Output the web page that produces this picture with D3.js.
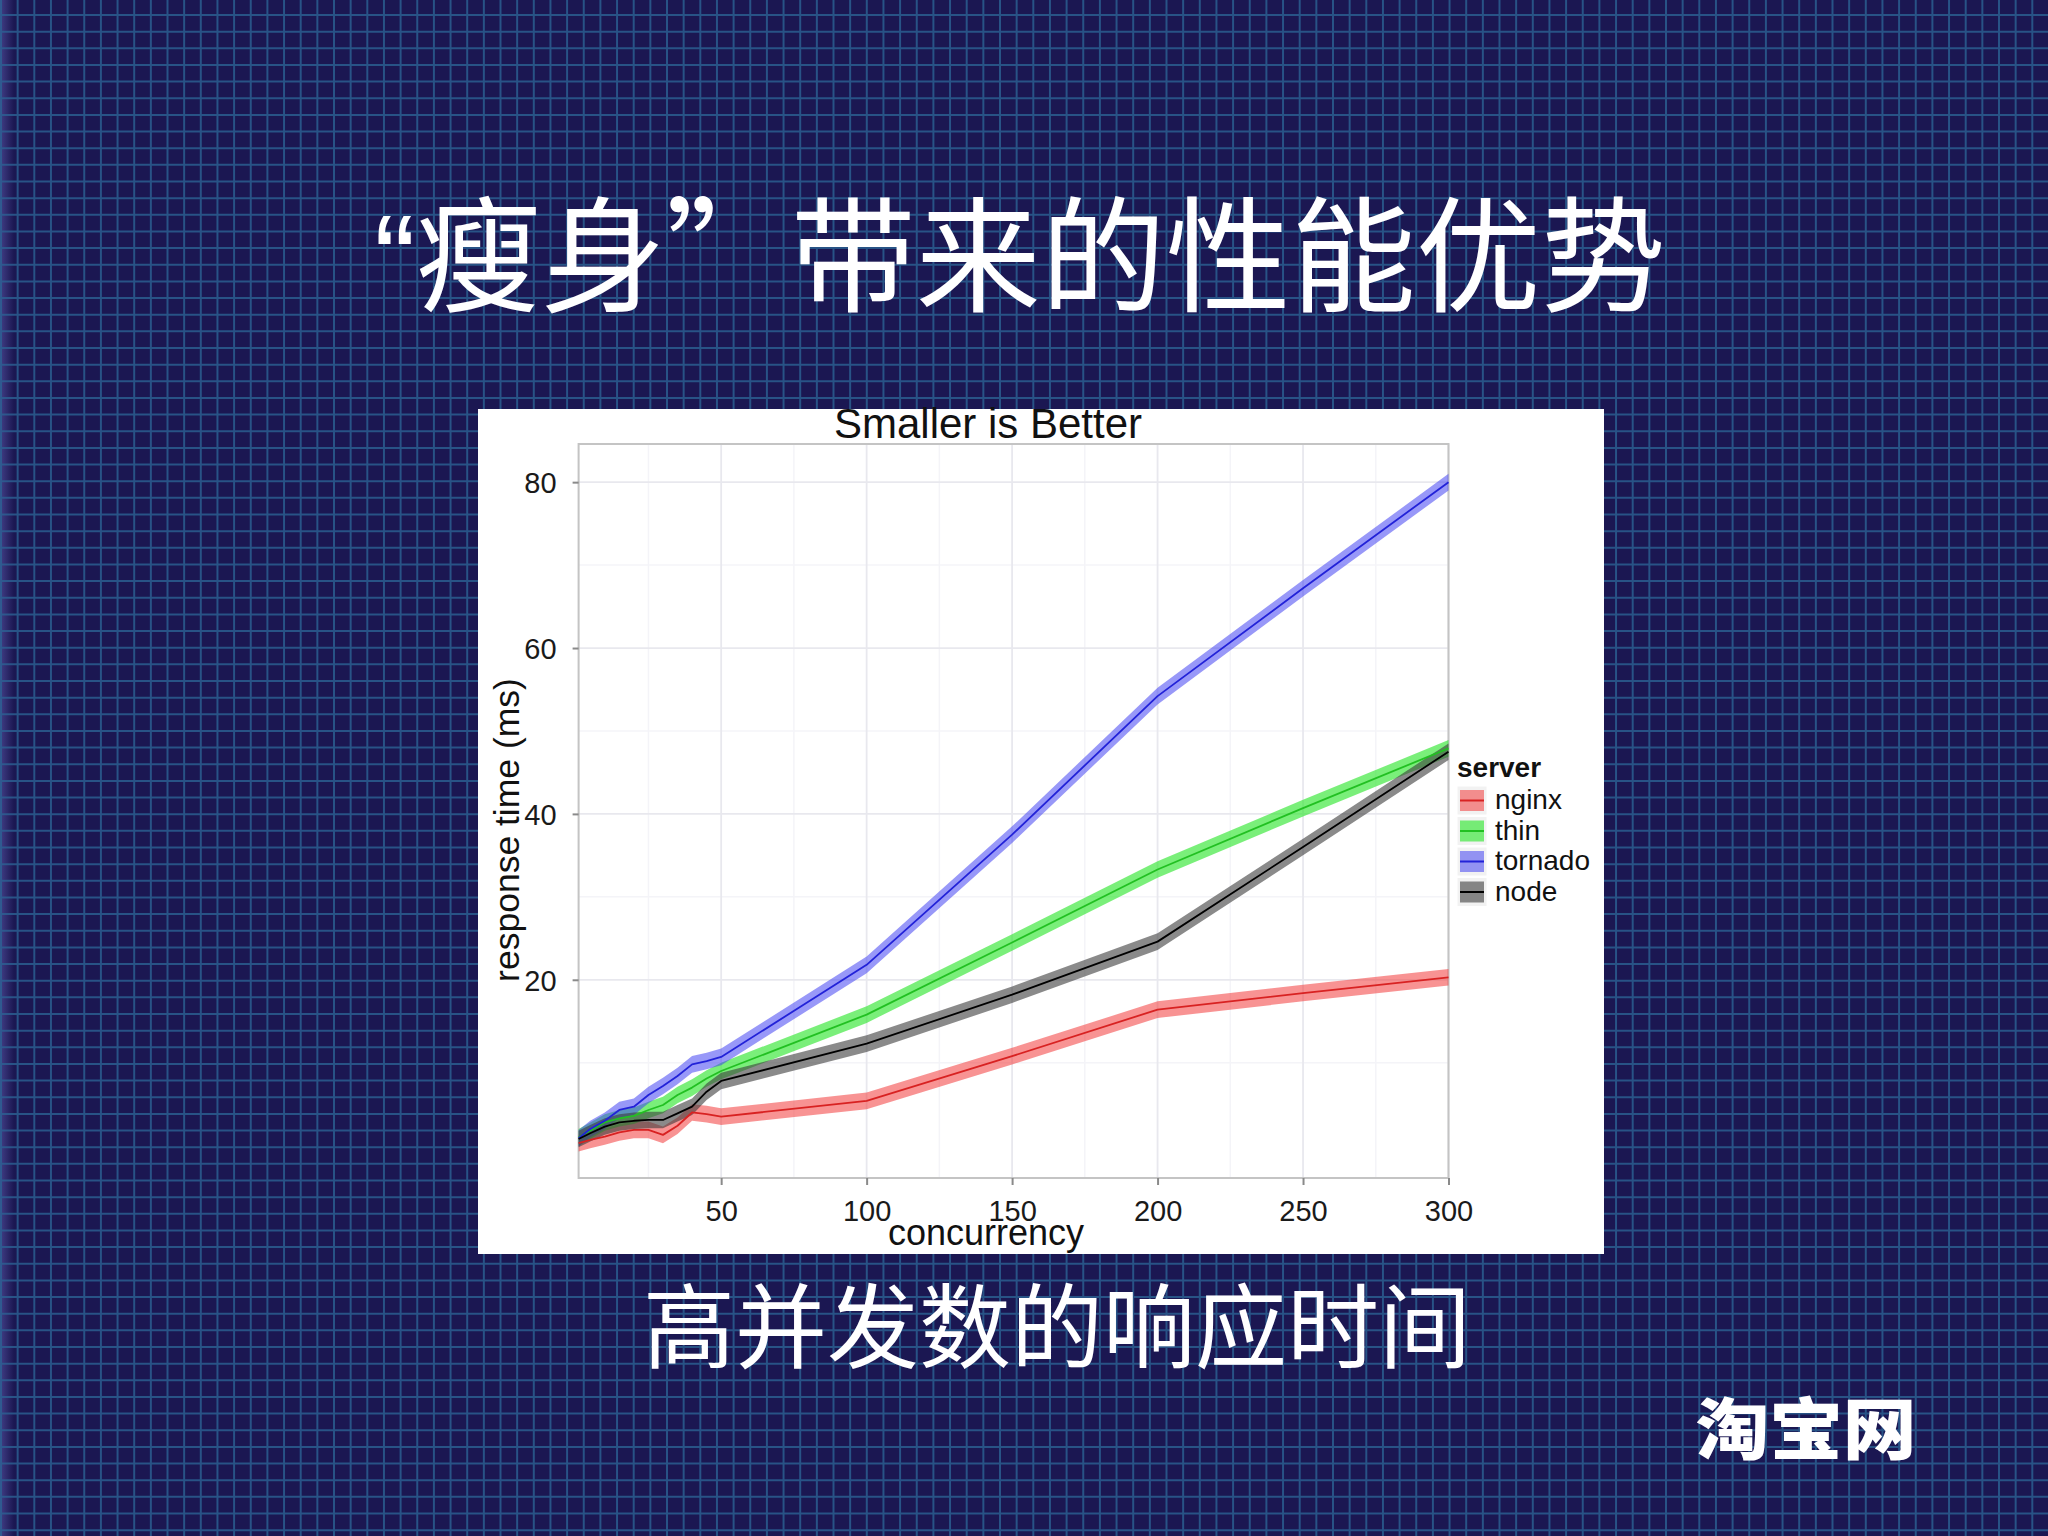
<!DOCTYPE html>
<html>
<head>
<meta charset="utf-8">
<script src="https://cdn.jsdelivr.net/npm/d3@7"></script>
<style>
  html, body { margin: 0; padding: 0; background: #1b1752; }
  svg { display: block; }
</style>
</head>
<body>
<script>
// ---------------- data ----------------
const concurrency = [1, 5, 10, 15, 20, 25, 30, 35, 40, 45, 50, 100, 150, 200, 250, 300];
const nginx   = [0.3, 0.7, 1.1, 1.6, 1.9, 1.9, 1.3, 2.4, 4.0, 3.8, 3.5, 5.4, 10.8, 16.4, 18.4, 20.3];
const thin    = [1.0, 1.8, 2.8, 3.3, 3.6, 4.3, 4.9, 6.1, 7.0, 8.1, 9.0, 15.8, 24.5, 33.3, 40.7, 47.9];
const tornado = [0.9, 2.0, 3.0, 4.3, 4.7, 6.1, 7.2, 8.4, 9.8, 10.2, 10.7, 21.8, 37.5, 54.2, 67.2, 80.0];
const node    = [0.8, 1.5, 2.3, 2.8, 3.0, 3.1, 3.1, 3.9, 4.7, 6.5, 7.8, 12.3, 18.2, 24.6, 36.0, 47.5];
const ciHalf  = 1.0; // half width of the confidence band (ms)

const serverNames = ["nginx", "thin", "tornado", "node"];
const xTicks = [50, 100, 150, 200, 250, 300];
const xMinor = [25, 75, 125, 175, 225, 275];
const yTicks = [20, 40, 60, 80];
const yMinor = [10, 30, 50, 70];

const slideTitleParts = ["“", "瘦身", "”", "带来的性能优势"];
const chartTitle = "Smaller is Better";
const xTitle = "concurrency";
const yTitle = "response time (ms)";
const subTitle = "高并发数的响应时间";
const logoText = "淘宝网";

// ---------------- styles ----------------
const seriesValues = [nginx, thin, tornado, node];
const bandColors = ["#f23a3a", "#33e633", "#4444f2", "#3c3c3c"];
const bandOpacity = [0.55, 0.65, 0.55, 0.6];
const lineColors = ["#d82222", "#22c022", "#2222d8", "#000000"];

const W = 2048, H = 1536;
const svg = d3.select("body").append("svg").attr("width", W).attr("height", H);

// ---------------- slide background ----------------
svg.append("rect").attr("width", W).attr("height", H).attr("fill", "#1b1752");
const lg = svg.append("defs").append("linearGradient").attr("id", "edge")
  .attr("x1", 0).attr("x2", 1).attr("y1", 0).attr("y2", 0);
lg.append("stop").attr("offset", 0).attr("stop-color", "#5a58a8").attr("stop-opacity", 0.6);
lg.append("stop").attr("offset", 1).attr("stop-color", "#5a58a8").attr("stop-opacity", 0);
svg.append("rect").attr("width", 14).attr("height", H).attr("fill", "url(#edge)");

const step = 16.65;
const gridG = svg.append("g").attr("stroke", "#2c6294").attr("stroke-width", 2).attr("opacity", 0.8);
gridG.selectAll("line.v").data(d3.range(1, W, step)).join("line")
  .attr("x1", d => d).attr("x2", d => d).attr("y1", 0).attr("y2", H);
gridG.selectAll("line.h").data(d3.range(15, H, step)).join("line")
  .attr("y1", d => d).attr("y2", d => d).attr("x1", 0).attr("x2", W);

// slide title (Latin opening quote, CJK closing quote)
const cjk = "'Noto Sans CJK SC', sans-serif";
const latin = "'Liberation Sans', Arial, sans-serif";
const tt = svg.append("text").attr("x", 374).attr("y", 302)
  .attr("font-size", 125).attr("fill", "#ffffff").attr("font-weight", 400);
tt.selectAll("tspan").data(slideTitleParts).join("tspan")
  .attr("font-family", (d, i) => i === 0 ? latin : cjk)
  .attr("font-weight", (d, i) => i === 0 ? 300 : 400)
  .text(d => d);

svg.append("text").attr("x", 1057).attr("y", 1361).attr("text-anchor", "middle")
  .attr("font-family", cjk).attr("font-weight", 400)
  .attr("font-size", 92).attr("fill", "#ffffff").text(subTitle);

svg.append("text").attr("transform", "translate(1806,1454) scale(1.1,1)").attr("text-anchor", "middle")
  .attr("font-family", cjk).attr("font-weight", 900)
  .attr("font-size", 67).attr("fill", "#ffffff").text(logoText);

// ---------------- chart ----------------
svg.append("rect").attr("x", 478).attr("y", 409).attr("width", 1126).attr("height", 845).attr("fill", "#ffffff");

const pl = 578.6, pr = 1448.5, pt = 444, pb = 1178;
const x = d3.scaleLinear().domain([1, 300]).range([pl, pr]);
const y = d3.scaleLinear().domain([-3.9, 84.6]).range([pb, pt]);

const chartFont = "'Liberation Sans', Arial, Helvetica, sans-serif";
const g = svg.append("g");

// minor + major grid
g.selectAll("line.xm").data(xMinor).join("line")
  .attr("x1", d => x(d)).attr("x2", d => x(d)).attr("y1", pt).attr("y2", pb)
  .attr("stroke", "#f4f4f8").attr("stroke-width", 1.5);
g.selectAll("line.ym").data(yMinor).join("line")
  .attr("y1", d => y(d)).attr("y2", d => y(d)).attr("x1", pl).attr("x2", pr)
  .attr("stroke", "#f4f4f8").attr("stroke-width", 1.5);
g.selectAll("line.xg").data(xTicks).join("line")
  .attr("x1", d => x(d)).attr("x2", d => x(d)).attr("y1", pt).attr("y2", pb)
  .attr("stroke", "#e8e8ee").attr("stroke-width", 1.8);
g.selectAll("line.yg").data(yTicks).join("line")
  .attr("y1", d => y(d)).attr("y2", d => y(d)).attr("x1", pl).attr("x2", pr)
  .attr("stroke", "#e8e8ee").attr("stroke-width", 1.8);

// panel border
g.append("rect").attr("x", pl).attr("y", pt).attr("width", pr - pl).attr("height", pb - pt)
  .attr("fill", "none").attr("stroke", "#c4c4c4").attr("stroke-width", 2);

// axes
const xAxis = d3.axisBottom(x).tickValues(xTicks).tickSize(7).tickPadding(15);
const yAxis = d3.axisLeft(y).tickValues(yTicks).tickSize(6).tickPadding(16);
const xa = g.append("g").attr("transform", `translate(0,${pb})`).call(xAxis);
const ya = g.append("g").attr("transform", `translate(${pl},0)`).call(yAxis);
[xa, ya].forEach(a => {
  a.select(".domain").remove();
  a.selectAll(".tick line").attr("stroke", "#8a8a8a").attr("stroke-width", 2);
  a.selectAll(".tick text").attr("font-family", chartFont).attr("font-size", 29).attr("fill", "#1a1a1a");
});
ya.selectAll(".tick text").attr("dy", "0.36em");

// series
const rows = serverNames.map((name, i) => ({
  name, i,
  pts: concurrency.map((c, j) => ({ c, v: seriesValues[i][j] }))
}));
const area = d3.area().x(d => x(d.c)).y0(d => y(d.v - ciHalf)).y1(d => y(d.v + ciHalf));
const line = d3.line().x(d => x(d.c)).y(d => y(d.v));

g.selectAll("path.band").data(rows).join("path")
  .attr("d", d => area(d.pts)).attr("fill", d => bandColors[d.i]).attr("fill-opacity", d => bandOpacity[d.i]);
g.selectAll("path.ln").data(rows).join("path")
  .attr("d", d => line(d.pts)).attr("fill", "none").attr("stroke", d => lineColors[d.i])
  .attr("stroke-width", 1.8).attr("stroke-linejoin", "round");

// titles
svg.append("text").attr("x", 988).attr("y", 438).attr("text-anchor", "middle")
  .attr("font-family", chartFont).attr("font-size", 42).attr("fill", "#111").text(chartTitle);
svg.append("text").attr("x", 986).attr("y", 1245).attr("text-anchor", "middle")
  .attr("font-family", chartFont).attr("font-size", 36).attr("fill", "#111").text(xTitle);
svg.append("text").attr("transform", "translate(519,830) rotate(-90)").attr("text-anchor", "middle")
  .attr("font-family", chartFont).attr("font-size", 35.5).attr("fill", "#111").text(yTitle);

// legend
const lgX = 1457, lgY = 786;
const leg = svg.append("g");
leg.append("text").attr("x", lgX).attr("y", 777).attr("font-family", chartFont)
  .attr("font-weight", "bold").attr("font-size", 28).attr("fill", "#111").text("server");
const item = leg.selectAll("g.item").data(rows).join("g")
  .attr("transform", d => `translate(${lgX},${lgY + d.i * 30.5})`);
item.append("rect").attr("width", 30).attr("height", 29).attr("fill", "#f2f2f2")
  .attr("stroke", "#ffffff").attr("stroke-width", 1);
item.append("rect").attr("x", 3).attr("y", 4).attr("width", 24).attr("height", 21)
  .attr("fill", d => bandColors[d.i]).attr("fill-opacity", d => bandOpacity[d.i]);
item.append("line").attr("x1", 3).attr("x2", 27).attr("y1", 14.5).attr("y2", 14.5)
  .attr("stroke", d => lineColors[d.i]).attr("stroke-width", 2);
item.append("text").attr("x", 38).attr("y", 23).attr("font-family", chartFont)
  .attr("font-size", 28).attr("fill", "#111").text(d => d.name);
</script>
</body>
</html>
